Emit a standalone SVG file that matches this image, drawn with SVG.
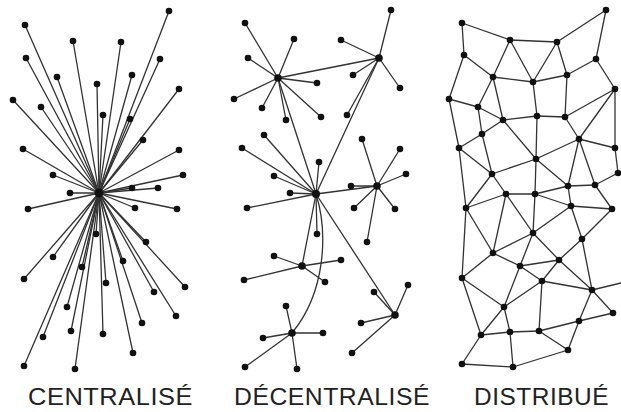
<svg xmlns="http://www.w3.org/2000/svg" width="621" height="412" viewBox="0 0 621 412">
<style>
.e line,.e path{stroke:#333;stroke-width:1.3;fill:none;stroke-linecap:round}
.n circle{fill:#111}
.lbl{font-family:"Liberation Sans",Arial,sans-serif;font-size:23px;fill:#222;letter-spacing:0.5px}
</style>
<rect width="621" height="412" fill="#fff"/>
<g id="connectors" class="e">
<!-- centralised -->
<g id="c-edges">
<line x1="99" y1="193" x2="169" y2="11"/><line x1="99" y1="193" x2="25" y2="25"/><line x1="99" y1="193" x2="73" y2="41"/><line x1="99" y1="193" x2="121" y2="42"/><line x1="99" y1="193" x2="26" y2="58"/><line x1="99" y1="193" x2="160" y2="59"/><line x1="99" y1="193" x2="57" y2="77"/><line x1="99" y1="193" x2="132" y2="75"/><line x1="99" y1="193" x2="97" y2="84"/><line x1="99" y1="193" x2="179" y2="89"/><line x1="99" y1="193" x2="13" y2="100"/><line x1="99" y1="193" x2="41" y2="107"/><line x1="99" y1="193" x2="103" y2="115"/><line x1="99" y1="193" x2="130" y2="119"/><line x1="99" y1="193" x2="143" y2="140"/><line x1="99" y1="193" x2="23" y2="149"/><line x1="99" y1="193" x2="179" y2="150"/><line x1="99" y1="193" x2="53" y2="175"/><line x1="99" y1="193" x2="183" y2="175"/><line x1="99" y1="193" x2="132" y2="188"/><line x1="99" y1="193" x2="158" y2="188"/><line x1="99" y1="193" x2="70" y2="193"/><line x1="99" y1="193" x2="28" y2="209"/><line x1="99" y1="193" x2="135" y2="208"/><line x1="99" y1="193" x2="177" y2="209"/><line x1="99" y1="193" x2="96" y2="234"/><line x1="99" y1="193" x2="146" y2="242"/><line x1="99" y1="193" x2="53" y2="257"/><line x1="99" y1="193" x2="123" y2="261"/><line x1="99" y1="193" x2="82" y2="267"/><line x1="99" y1="193" x2="24" y2="279"/><line x1="99" y1="193" x2="106" y2="283"/><line x1="99" y1="193" x2="185" y2="287"/><line x1="99" y1="193" x2="154" y2="292"/><line x1="99" y1="193" x2="67" y2="307"/><line x1="99" y1="193" x2="176" y2="316"/><line x1="99" y1="193" x2="142" y2="323"/><line x1="99" y1="193" x2="71" y2="331"/><line x1="99" y1="193" x2="103" y2="334"/><line x1="99" y1="193" x2="43" y2="337"/><line x1="99" y1="193" x2="133" y2="353"/><line x1="99" y1="193" x2="24" y2="366"/><line x1="99" y1="193" x2="75" y2="369"/>
</g>
<!-- decentralised -->
<g id="d-edges">
<line x1="278" y1="78" x2="245" y2="23"/><line x1="278" y1="78" x2="294" y2="39"/><line x1="278" y1="78" x2="248" y2="58"/><line x1="278" y1="78" x2="317" y2="83"/><line x1="278" y1="78" x2="234" y2="99"/><line x1="278" y1="78" x2="262" y2="108"/><line x1="278" y1="78" x2="286" y2="120"/><line x1="278" y1="78" x2="321" y2="117"/>
<line x1="379" y1="58" x2="391" y2="10"/><line x1="379" y1="58" x2="341" y2="40"/><line x1="379" y1="58" x2="353" y2="75"/><line x1="379" y1="58" x2="400" y2="88"/><line x1="379" y1="58" x2="347" y2="115"/>
<line x1="316" y1="194" x2="264" y2="135"/><line x1="316" y1="194" x2="242" y2="148"/><line x1="316" y1="194" x2="319" y2="162"/><line x1="316" y1="194" x2="274" y2="176"/><line x1="316" y1="194" x2="290" y2="193"/><line x1="316" y1="194" x2="247" y2="208"/><line x1="316" y1="194" x2="317" y2="234"/>
<line x1="377" y1="186" x2="362" y2="139"/><line x1="377" y1="186" x2="400" y2="149"/><line x1="377" y1="186" x2="406" y2="174"/><line x1="377" y1="186" x2="351" y2="186"/><line x1="377" y1="186" x2="354" y2="208"/><line x1="377" y1="186" x2="395" y2="209"/><line x1="377" y1="186" x2="367" y2="242"/>
<line x1="302" y1="266" x2="274" y2="256"/><line x1="302" y1="266" x2="341" y2="260"/><line x1="302" y1="266" x2="244" y2="280"/><line x1="302" y1="266" x2="325" y2="282"/>
<line x1="292" y1="333" x2="286" y2="306"/><line x1="292" y1="333" x2="263" y2="338"/><line x1="292" y1="333" x2="323" y2="333"/><line x1="292" y1="333" x2="245" y2="367"/><line x1="292" y1="333" x2="297" y2="369"/>
<line x1="395" y1="315" x2="408" y2="285"/><line x1="395" y1="315" x2="374" y2="292"/><line x1="395" y1="315" x2="361" y2="323"/><line x1="395" y1="315" x2="352" y2="353"/>
<line x1="278" y1="78" x2="379" y2="58"/><line x1="278" y1="78" x2="316" y2="194"/><line x1="379" y1="58" x2="316" y2="194"/><line x1="316" y1="194" x2="377" y2="186"/><line x1="316" y1="194" x2="302" y2="266"/><line x1="316" y1="194" x2="395" y2="315"/>
<path d="M316,194 C328,232 326,292 292,333"/>
</g>
<!-- distributed -->
<g id="m-edges">
<line x1="462" y1="23" x2="510" y2="40"/><line x1="462" y1="23" x2="464" y2="55"/><line x1="510" y1="40" x2="557" y2="42"/><line x1="557" y1="42" x2="606" y2="10"/><line x1="606" y1="10" x2="596" y2="59"/><line x1="510" y1="40" x2="493" y2="77"/><line x1="510" y1="40" x2="533" y2="82"/><line x1="557" y1="42" x2="533" y2="82"/><line x1="557" y1="42" x2="567" y2="75"/><line x1="464" y1="55" x2="493" y2="77"/><line x1="464" y1="55" x2="449" y2="99"/><line x1="596" y1="59" x2="567" y2="75"/><line x1="596" y1="59" x2="615" y2="89"/><line x1="493" y1="77" x2="533" y2="82"/><line x1="493" y1="77" x2="478" y2="107"/><line x1="493" y1="77" x2="503" y2="120"/><line x1="533" y1="82" x2="567" y2="75"/><line x1="533" y1="82" x2="537" y2="116"/><line x1="567" y1="75" x2="565" y2="117"/><line x1="615" y1="89" x2="565" y2="117"/><line x1="615" y1="89" x2="579" y2="139"/><line x1="615" y1="89" x2="615" y2="148"/><line x1="449" y1="99" x2="478" y2="107"/><line x1="449" y1="99" x2="459" y2="148"/><line x1="478" y1="107" x2="503" y2="120"/><line x1="478" y1="107" x2="482" y2="134"/><line x1="537" y1="116" x2="503" y2="120"/><line x1="537" y1="116" x2="565" y2="117"/><line x1="537" y1="116" x2="536" y2="159"/><line x1="565" y1="117" x2="579" y2="139"/><line x1="503" y1="120" x2="536" y2="159"/><line x1="503" y1="120" x2="482" y2="134"/><line x1="482" y1="134" x2="459" y2="148"/><line x1="482" y1="134" x2="492" y2="174"/><line x1="579" y1="139" x2="615" y2="148"/><line x1="579" y1="139" x2="536" y2="159"/><line x1="579" y1="139" x2="568" y2="186"/><line x1="579" y1="139" x2="595" y2="185"/><line x1="459" y1="148" x2="492" y2="174"/><line x1="459" y1="148" x2="466" y2="208"/><line x1="615" y1="148" x2="618" y2="173"/><line x1="536" y1="159" x2="492" y2="174"/><line x1="536" y1="159" x2="535" y2="194"/><line x1="536" y1="159" x2="568" y2="186"/><line x1="492" y1="174" x2="506" y2="194"/><line x1="492" y1="174" x2="466" y2="208"/><line x1="618" y1="173" x2="595" y2="185"/><line x1="568" y1="186" x2="595" y2="185"/><line x1="568" y1="186" x2="571" y2="206"/><line x1="595" y1="185" x2="612" y2="209"/><line x1="568" y1="186" x2="535" y2="194"/>
<line x1="506" y1="194" x2="535" y2="194"/><line x1="506" y1="194" x2="466" y2="208"/><line x1="506" y1="194" x2="493" y2="253"/><line x1="506" y1="194" x2="533" y2="233"/><line x1="535" y1="194" x2="571" y2="206"/><line x1="535" y1="194" x2="533" y2="233"/><line x1="466" y1="208" x2="493" y2="253"/><line x1="466" y1="208" x2="462" y2="278"/><line x1="571" y1="206" x2="612" y2="209"/><line x1="571" y1="206" x2="533" y2="233"/><line x1="571" y1="206" x2="582" y2="239"/><line x1="612" y1="209" x2="582" y2="239"/><line x1="533" y1="233" x2="493" y2="253"/><line x1="533" y1="233" x2="520" y2="266"/><line x1="533" y1="233" x2="559" y2="260"/><line x1="582" y1="239" x2="559" y2="260"/><line x1="582" y1="239" x2="592" y2="290"/><line x1="493" y1="253" x2="520" y2="266"/><line x1="493" y1="253" x2="462" y2="278"/><line x1="559" y1="260" x2="520" y2="266"/><line x1="559" y1="260" x2="542" y2="281"/><line x1="559" y1="260" x2="592" y2="290"/><line x1="520" y1="266" x2="542" y2="281"/><line x1="520" y1="266" x2="504" y2="307"/><line x1="462" y1="278" x2="504" y2="307"/><line x1="462" y1="278" x2="481" y2="335"/><line x1="542" y1="281" x2="592" y2="290"/><line x1="542" y1="281" x2="504" y2="307"/><line x1="542" y1="281" x2="539" y2="331"/><line x1="592" y1="290" x2="621" y2="283"/><line x1="592" y1="290" x2="613" y2="313"/><line x1="592" y1="290" x2="579" y2="321"/><line x1="504" y1="307" x2="481" y2="335"/><line x1="504" y1="307" x2="510" y2="332"/><line x1="613" y1="313" x2="579" y2="321"/><line x1="579" y1="321" x2="539" y2="331"/><line x1="579" y1="321" x2="568" y2="350"/><line x1="481" y1="335" x2="510" y2="332"/><line x1="481" y1="335" x2="462" y2="364"/><line x1="510" y1="332" x2="539" y2="331"/><line x1="510" y1="332" x2="513" y2="367"/><line x1="539" y1="331" x2="568" y2="350"/><line x1="568" y1="350" x2="513" y2="367"/><line x1="462" y1="364" x2="513" y2="367"/>
</g>
</g>
<g id="nodes" class="n">
<g id="central-hub"><circle cx="99" cy="193" r="4.5"/></g>
<g id="central-leaves">
<circle cx="169" cy="11" r="3.3"/><circle cx="25" cy="25" r="3.3"/><circle cx="73" cy="41" r="3.3"/><circle cx="121" cy="42" r="3.3"/><circle cx="26" cy="58" r="3.3"/><circle cx="160" cy="59" r="3.3"/><circle cx="57" cy="77" r="3.3"/><circle cx="132" cy="75" r="3.3"/><circle cx="97" cy="84" r="3.3"/><circle cx="179" cy="89" r="3.3"/><circle cx="13" cy="100" r="3.3"/><circle cx="41" cy="107" r="3.3"/><circle cx="103" cy="115" r="3.3"/><circle cx="130" cy="119" r="3.3"/><circle cx="143" cy="140" r="3.3"/><circle cx="23" cy="149" r="3.3"/><circle cx="179" cy="150" r="3.3"/><circle cx="53" cy="175" r="3.3"/><circle cx="183" cy="175" r="3.3"/><circle cx="132" cy="188" r="3.3"/><circle cx="158" cy="188" r="3.3"/><circle cx="70" cy="193" r="3.3"/><circle cx="28" cy="209" r="3.3"/><circle cx="135" cy="208" r="3.3"/><circle cx="177" cy="209" r="3.3"/><circle cx="96" cy="234" r="3.3"/><circle cx="146" cy="242" r="3.3"/><circle cx="53" cy="257" r="3.3"/><circle cx="123" cy="261" r="3.3"/><circle cx="82" cy="267" r="3.3"/><circle cx="24" cy="279" r="3.3"/><circle cx="106" cy="283" r="3.3"/><circle cx="185" cy="287" r="3.3"/><circle cx="154" cy="292" r="3.3"/><circle cx="67" cy="307" r="3.3"/><circle cx="176" cy="316" r="3.3"/><circle cx="142" cy="323" r="3.3"/><circle cx="71" cy="331" r="3.3"/><circle cx="103" cy="334" r="3.3"/><circle cx="43" cy="337" r="3.3"/><circle cx="133" cy="353" r="3.3"/><circle cx="24" cy="366" r="3.3"/><circle cx="75" cy="369" r="3.3"/>
</g>
<g id="decentral-hubs">
<circle cx="278" cy="78" r="3.8"/><circle cx="379" cy="58" r="3.8"/><circle cx="316" cy="194" r="4"/><circle cx="377" cy="186" r="3.8"/><circle cx="302" cy="266" r="3.8"/><circle cx="292" cy="333" r="3.8"/><circle cx="395" cy="315" r="3.8"/>
</g>
<g id="decentral-leaves">
<circle cx="245" cy="23" r="3.3"/><circle cx="294" cy="39" r="3.3"/><circle cx="248" cy="58" r="3.3"/><circle cx="317" cy="83" r="3.3"/><circle cx="234" cy="99" r="3.3"/><circle cx="262" cy="108" r="3.3"/><circle cx="286" cy="120" r="3.3"/><circle cx="321" cy="117" r="3.3"/>
<circle cx="391" cy="10" r="3.3"/><circle cx="341" cy="40" r="3.3"/><circle cx="353" cy="75" r="3.3"/><circle cx="400" cy="88" r="3.3"/><circle cx="347" cy="115" r="3.3"/>
<circle cx="264" cy="135" r="3.3"/><circle cx="242" cy="148" r="3.3"/><circle cx="319" cy="162" r="3.3"/><circle cx="274" cy="176" r="3.3"/><circle cx="290" cy="193" r="3.3"/><circle cx="247" cy="208" r="3.3"/><circle cx="317" cy="234" r="3.3"/>
<circle cx="362" cy="139" r="3.3"/><circle cx="400" cy="149" r="3.3"/><circle cx="406" cy="174" r="3.3"/><circle cx="351" cy="186" r="3.3"/><circle cx="354" cy="208" r="3.3"/><circle cx="395" cy="209" r="3.3"/><circle cx="367" cy="242" r="3.3"/>
<circle cx="274" cy="256" r="3.3"/><circle cx="341" cy="260" r="3.3"/><circle cx="244" cy="280" r="3.3"/><circle cx="325" cy="282" r="3.3"/>
<circle cx="286" cy="306" r="3.3"/><circle cx="263" cy="338" r="3.3"/><circle cx="323" cy="333" r="3.3"/><circle cx="245" cy="367" r="3.3"/><circle cx="297" cy="369" r="3.3"/>
<circle cx="408" cy="285" r="3.3"/><circle cx="374" cy="292" r="3.3"/><circle cx="361" cy="323" r="3.3"/><circle cx="352" cy="353" r="3.3"/>
</g>
<g id="distributed-nodes">
<circle cx="462" cy="23" r="3.3"/><circle cx="606" cy="10" r="3.3"/><circle cx="510" cy="40" r="3.3"/><circle cx="557" cy="42" r="3.3"/><circle cx="464" cy="55" r="3.3"/><circle cx="596" cy="59" r="3.3"/><circle cx="493" cy="77" r="3.3"/><circle cx="533" cy="82" r="3.3"/><circle cx="567" cy="75" r="3.3"/><circle cx="615" cy="89" r="3.3"/><circle cx="449" cy="99" r="3.3"/><circle cx="478" cy="107" r="3.3"/><circle cx="537" cy="116" r="3.3"/><circle cx="565" cy="117" r="3.3"/><circle cx="503" cy="120" r="3.3"/><circle cx="482" cy="134" r="3.3"/><circle cx="579" cy="139" r="3.3"/><circle cx="459" cy="148" r="3.3"/><circle cx="615" cy="148" r="3.3"/><circle cx="536" cy="159" r="3.3"/><circle cx="492" cy="174" r="3.3"/><circle cx="618" cy="173" r="3.3"/><circle cx="568" cy="186" r="3.3"/><circle cx="595" cy="185" r="3.3"/>
<circle cx="506" cy="194" r="3.3"/><circle cx="535" cy="194" r="3.3"/><circle cx="466" cy="208" r="3.3"/><circle cx="571" cy="206" r="3.3"/><circle cx="612" cy="209" r="3.3"/><circle cx="533" cy="233" r="3.3"/><circle cx="582" cy="239" r="3.3"/><circle cx="493" cy="253" r="3.3"/><circle cx="559" cy="260" r="3.3"/><circle cx="520" cy="266" r="3.3"/><circle cx="462" cy="278" r="3.3"/><circle cx="542" cy="281" r="3.3"/><circle cx="592" cy="290" r="3.3"/><circle cx="613" cy="313" r="3.3"/><circle cx="504" cy="307" r="3.3"/><circle cx="579" cy="321" r="3.3"/><circle cx="481" cy="335" r="3.3"/><circle cx="510" cy="332" r="3.3"/><circle cx="539" cy="331" r="3.3"/><circle cx="568" cy="350" r="3.3"/><circle cx="462" cy="364" r="3.3"/><circle cx="513" cy="367" r="3.3"/>
</g>
</g>
<g id="labels" class="lbl">
<text x="28" y="405" textLength="165" lengthAdjust="spacingAndGlyphs">CENTRALISÉ</text>
<text x="234" y="405" textLength="196" lengthAdjust="spacingAndGlyphs">DÉCENTRALISÉ</text>
<text x="474" y="405" textLength="135" lengthAdjust="spacingAndGlyphs">DISTRIBUÉ</text>
</g>
</svg>
